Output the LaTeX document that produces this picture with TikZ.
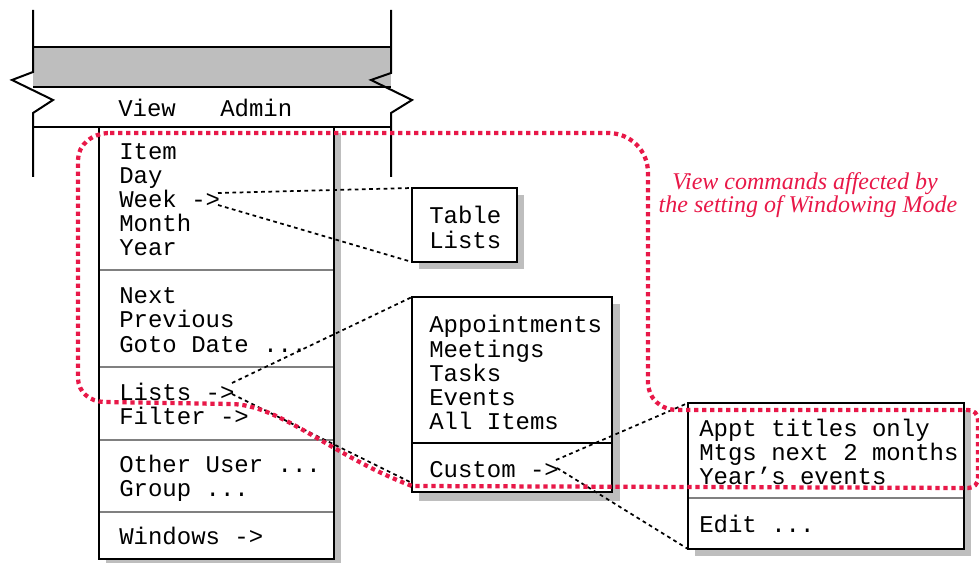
\documentclass[tikz,border=0pt]{standalone}
\usepackage{fontspec}
\setmonofont{Liberation Mono}
\newfontfamily\notefont{Liberation Serif}
\definecolor{noteRed}{RGB}{232,24,72}
\definecolor{shadegray}{RGB}{190,190,190}
\definecolor{sepgray}{RGB}{128,128,128}
\begin{document}
\begin{tikzpicture}[x=0.75pt,y=-0.75pt,
  frame/.style={line width=1.5pt, line join=miter},
  menubox/.style={draw=black, fill=white, line width=1.5pt},
  shadowbox/.style={fill=shadegray, draw=none},
  sep/.style={draw=sepgray, line width=1.5pt},
  blacksep/.style={draw=black, line width=1.5pt},
  item/.style={anchor=base west, inner sep=0pt, font=\ttfamily\fontsize{18}{18}\selectfont},
  conn/.style={draw=black, line width=1.3pt, dash pattern=on 2.8pt off 2.6pt},
  hl/.style={draw=noteRed, line width=3.2pt, dash pattern=on 3.2pt off 2.8pt},
  note/.style={anchor=base, inner sep=0pt, text=noteRed, font=\notefont\itshape\fontsize{18}{18}\selectfont}]
\useasboundingbox (0,0) rectangle (979,563);

% window frame
\fill[shadowbox] (33,47) rectangle (391,87);
\draw[frame] (33,47) -- (391,47);
\draw[frame] (33,87) -- (391,87);
\draw[frame] (33,10) -- (33,72) -- (12,80) -- (53,100) -- (33,113) -- (33,177);
\draw[frame] (391,10) -- (391,73) -- (371,80) -- (412,100) -- (391,113) -- (391,177);
\draw[frame] (33,127) -- (391,127);
\node[item] (view) at (118,117) {View};
\node[item] (admin) at (220,117) {Admin};

% main menu
\fill[shadowbox] (106,133) rectangle (341,566);
\draw[menubox] (99,127) rectangle (334,559);
\foreach \yy in {270,367,440,512} \draw[sep] (100,\yy) -- (333,\yy);
\node[item] (item) at (119,160) {Item};
\node[item] (day) at (119,184) {Day};
\node[item] (week) at (119,208) {Week ->};
\node[item] (month) at (119,232) {Month};
\node[item] (year) at (119,256) {Year};
\node[item] (next) at (119,304) {Next};
\node[item] (prev) at (119,328) {Previous};
\node[item] (goto) at (119,352) {Goto Date ...};
\node[item] (lists) at (119,400) {Lists ->};
\node[item] (filter) at (119,424) {Filter ->};
\node[item] (other) at (119,472) {Other User ...};
\node[item] (group) at (119,496) {Group ...};
\node[item] (windows) at (119,544) {Windows ->};

% Table / Lists submenu
\coordinate (tblNW) at (412,188);
\coordinate (tblSE) at (517,262);
\coordinate (tblSW) at (412,262);
\fill[shadowbox] (419,195) rectangle (524,269);
\draw[menubox] (tblNW) rectangle (tblSE);
\node[item] (table) at (429,224) {Table};
\node[item] (tlists) at (429,248) {Lists};

% Lists submenu
\coordinate (lstNW) at (412,297);
\coordinate (lstSE) at (612,492);
\coordinate (lstW) at (412,483);
\fill[shadowbox] (419,304) rectangle (620,501);
\draw[menubox] (lstNW) rectangle (lstSE);
\draw[blacksep] (413,443) -- (611,443);
\node[item] (appts) at (429,333) {Appointments};
\node[item] (mtgs) at (429,357) {Meetings};
\node[item] (tasks) at (429,381) {Tasks};
\node[item] (events) at (429,405) {Events};
\node[item] (all) at (429,429) {All Items};
\node[item] (custom) at (429,477) {Custom ->};

% Custom submenu
\coordinate (cusNW) at (688,403);
\coordinate (cusSE) at (964,549);
\coordinate (cusSW) at (688,549);
\fill[shadowbox] (695,410) rectangle (971,556);
\draw[menubox] (cusNW) rectangle (cusSE);
\draw[sep] (689,498) -- (963,498);
\node[item] (appt) at (699,436) {Appt titles only};
\node[item] (mtg2) at (699,460) {Mtgs next 2 months};
\node[item] (yev) at (699,484) {Year’s events};
\node[item] (edit) at (699,532) {Edit ...};

% connectors
\coordinate (weekA) at (218,193);
\coordinate (weekB) at (218,205);
\coordinate (listsA) at (232,383);
\coordinate (listsB) at (232,394);
\coordinate (custA) at (556,460);
\coordinate (custB) at (557,468);
\draw[conn] (weekA) -- (tblNW);
\draw[conn] (weekB) -- (tblSW);
\draw[conn] (listsA) -- (lstNW);
\draw[conn] (listsB) -- (lstW);
\draw[conn] (custA) -- (cusNW);
\draw[conn] (custB) -- (cusSW);

% highlight outline
\draw[hl] (110,133) -- (608,133) .. controls (630,133) and (648,150) .. (648,173)
  -- (648,382) .. controls (648,398) and (660,410) .. (678,410)
  -- (968,410) .. controls (974,410) and (978,414) .. (978,420)
  -- (978,478) .. controls (978,484) and (974,488) .. (968,488)
  -- (412,486) .. controls (330,455) and (280,404) .. (230,404)
  -- (105,402) .. controls (90,402) and (78,392) .. (78,378)
  -- (78,160) .. controls (78,145) and (92,133) .. (110,133) -- cycle;
\node[note] (note1) at (805,190) {View commands affected by};
\node[note] (note2) at (808,213) {the setting of Windowing Mode};
\end{tikzpicture}
\end{document}
